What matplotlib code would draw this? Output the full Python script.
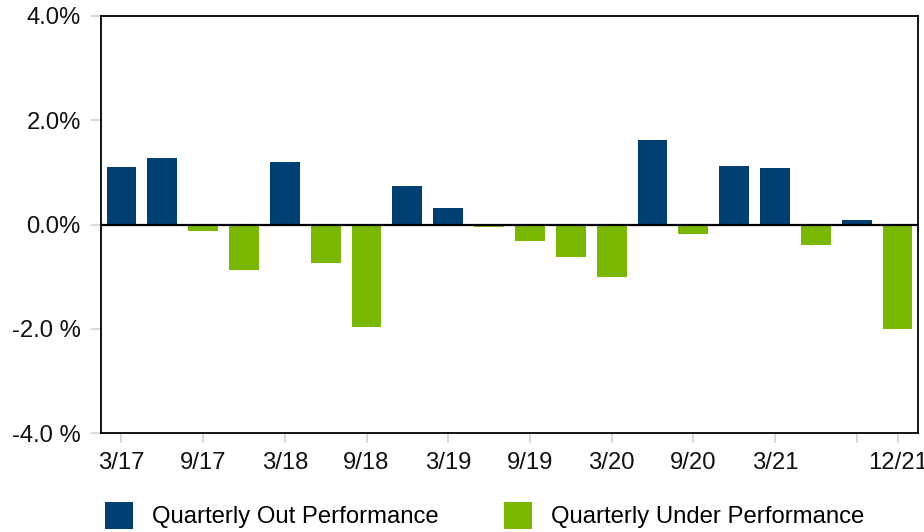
import matplotlib.pyplot as plt
import numpy as np

plt.rcParams['font.family'] = ['Liberation Sans', 'DejaVu Sans']

quarters = ['3/17', '6/17', '9/17', '12/17', '3/18', '6/18', '9/18', '12/18',
            '3/19', '6/19', '9/19', '12/19', '3/20', '6/20', '9/20', '12/20',
            '3/21', '6/21', '9/21', '12/21']
excess = [1.11, 1.27, -0.12, -0.88, 1.19, -0.73, -1.96, 0.73,
          0.31, -0.04, -0.31, -0.62, -1.00, 1.62, -0.19, 1.12,
          1.08, -0.39, 0.08, -2.00]
tick_quarters = ['3/17', '9/17', '3/18', '9/18', '3/19', '9/19', '3/20',
                 '9/20', '3/21', '9/21', '12/21']
tick_text = ['3/17', '9/17', '3/18', '9/18', '3/19', '9/19', '3/20',
             '9/20', '3/21', '', '12/21']
y_ticks = [4, 2, 0, -2, -4]
y_text = ['4.0%', '2.0%', '0.0%', '-2.0 %', '-4.0 %']

BLUE = '#003f72'
GREEN = '#7ab800'
FS = 17.2

vals = np.array(excess)
x = np.arange(len(quarters))
pos = vals >= 0

fig = plt.figure(figsize=(9.24, 5.32), dpi=100)
ax = fig.add_axes([0.1093, 0.186, 0.8842, 0.784])

ax.bar(x[pos], vals[pos], width=0.73, color=BLUE, label='Quarterly Out Performance', zorder=2)
ax.bar(x[~pos], vals[~pos], width=0.73, color=GREEN, label='Quarterly Under Performance', zorder=2)
ax.axhline(0, color='black', lw=1.6, zorder=3)

ax.set_xlim(-0.5, len(quarters) - 0.5)
ax.set_ylim(-4, 4)
ax.set_yticks(y_ticks)
ax.set_yticklabels(y_text)
ax.set_xticks([quarters.index(q) for q in tick_quarters])
ax.set_xticklabels(tick_text)

ax.tick_params(axis='both', labelsize=FS, color='#d9d9d9', width=1.5,
               length=7.5, labelcolor='#111111')
ax.tick_params(axis='y', pad=7)
ax.tick_params(axis='x', pad=6)
for s in ax.spines.values():
    s.set_color('black')
    s.set_linewidth(1.3)

ax.legend(loc='upper left', bbox_to_anchor=(0.005, -0.165), ncol=2, frameon=False,
          fontsize=FS, handlelength=1.17, handleheight=1.35, handletextpad=0.8,
          columnspacing=2.72, borderaxespad=0, borderpad=0)

fig.savefig('out.png', dpi=100)
